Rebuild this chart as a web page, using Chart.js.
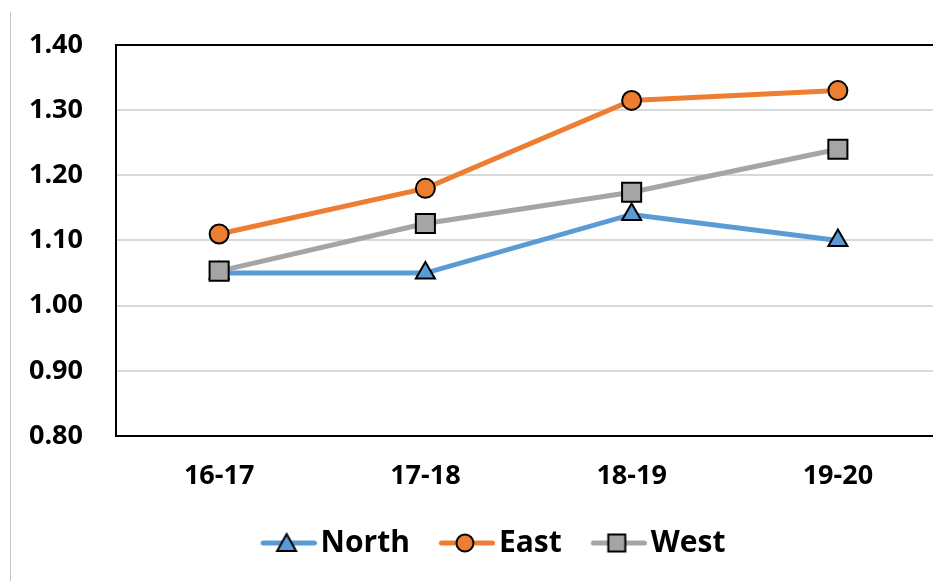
<!DOCTYPE html>
<html>
<head>
<meta charset="utf-8">
<script src="https://cdn.jsdelivr.net/npm/chart.js@4/dist/chart.umd.min.js"></script>
<style>
  html, body { margin: 0; padding: 0; background: #fff; overflow: hidden; }
  /* o gráfico original continua além da borda direita da imagem */
  #wrap { position: absolute; left: 0; top: 0; width: 957px; height: 581px; }
  #edge { position: absolute; left: 10px; top: 12px; width: 0; height: 569px; border-left: 1px solid #c8c8c8; }
</style>
</head>
<body>
<div id="wrap"><canvas id="grafico"></canvas></div>
<div id="edge"></div>
<script>
const categorias = ["16-17", "17-18", "18-19", "19-20"];
const north = [1.05, 1.05, 1.14, 1.10];
const east = [1.11, 1.18, 1.315, 1.33];
const west = [1.053, 1.126, 1.174, 1.24];
const yTicks = [0.8, 0.9, 1.0, 1.1, 1.2, 1.3, 1.4];

const fonte = "'Open Sans', 'Noto Sans', sans-serif";

// imagem da legenda: linha + marcador (estilo Excel)
function iconeLegenda(cor, estilo) {
  const c = document.createElement("canvas");
  c.width = 96;
  c.height = 24;
  const ctx = c.getContext("2d");
  ctx.strokeStyle = cor;
  ctx.lineWidth = 5;
  ctx.lineCap = "round";
  ctx.beginPath();
  ctx.moveTo(42.5, 12);
  ctx.lineTo(93.5, 12);
  ctx.stroke();
  ctx.fillStyle = cor;
  ctx.strokeStyle = "#000";
  ctx.lineWidth = 2;
  ctx.beginPath();
  const cx = 66;
  if (estilo === "circle") {
    ctx.arc(cx, 12, 8.5, 0, Math.PI * 2);
  } else if (estilo === "rect") {
    ctx.rect(cx - 8.5, 3.5, 17, 17);
  } else {
    ctx.moveTo(cx, 3);
    ctx.lineTo(cx + 9.5, 20);
    ctx.lineTo(cx - 9.5, 20);
    ctx.closePath();
  }
  ctx.fill();
  ctx.stroke();
  return c;
}

const series = [
  { label: "North", data: north, cor: "#5B9BD5", estilo: "triangle", raio: 11, ordem: 3 },
  { label: "East", data: east, cor: "#ED7D31", estilo: "circle", raio: 9.5, ordem: 2 },
  { label: "West", data: west, cor: "#A5A5A5", estilo: "rect", raio: 13.5, ordem: 1 },
];

const datasets = series.map((s) => ({
  label: s.label,
  data: s.data,
  borderColor: s.cor,
  backgroundColor: s.cor,
  borderWidth: 5,
  pointStyle: s.estilo,
  pointRadius: s.raio,
  pointBackgroundColor: s.cor,
  pointBorderColor: "#000",
  pointBorderWidth: 2,
  tension: 0,
  order: s.ordem,
}));

const icones = series.map((s) => iconeLegenda(s.cor, s.estilo));

const ctx = document.getElementById("grafico").getContext("2d");
const myChart = new Chart(ctx, {
  type: "line",
  data: {
    labels: categorias,
    datasets: datasets,
  },
  options: {
    responsive: true,
    maintainAspectRatio: false,
    animation: false,
    layout: {
      padding: { left: 16, top: 45, right: 16, bottom: 13 },
    },
    plugins: {
      tooltip: { enabled: false },
      legend: {
        position: "bottom",
        labels: {
          usePointStyle: true,
          pointStyleWidth: 74,
          padding: 0,
          color: "#000",
          font: { family: fonte, size: 30, weight: "bold" },
          sort: (a, b) => a.datasetIndex - b.datasetIndex,
          generateLabels: (chart) =>
            chart.data.datasets.map((d, i) => ({
              text: d.label,
              pointStyle: icones[i],
              fillStyle: d.borderColor,
              strokeStyle: d.borderColor,
              lineWidth: 0,
              datasetIndex: i,
              fontColor: "#000",
            })),
        },
      },
    },
    scales: {
      x: {
        offset: true,
        afterFit: (scale) => { scale.height = 92; },
        grid: { display: false, drawTicks: false },
        border: { display: true, color: "#000", width: 2 },
        ticks: {
          color: "#000",
          padding: 24,
          font: { family: fonte, size: 27, weight: "bold" },
        },
      },
      y: {
        min: 0.8,
        max: 1.4,
        afterFit: (scale) => {
          scale.width = 100;
          scale.paddingTop = 0;
          scale.paddingBottom = 0;
        },
        afterBuildTicks: (scale) => {
          scale.ticks = yTicks.map((v) => ({ value: v }));
        },
        grid: {
          drawTicks: false,
          color: (c) => (c.tick && Math.abs(c.tick.value - 1.4) < 1e-6 ? "#000" : "#d9d9d9"),
          lineWidth: 2,
        },
        border: { display: true, color: "#000", width: 2 },
        ticks: {
          color: "#000",
          padding: 33,
          font: { family: fonte, size: 27, weight: "bold" },
          callback: (v) => Number(v).toFixed(2),
        },
      },
    },
  },
});
</script>
</body>
</html>
